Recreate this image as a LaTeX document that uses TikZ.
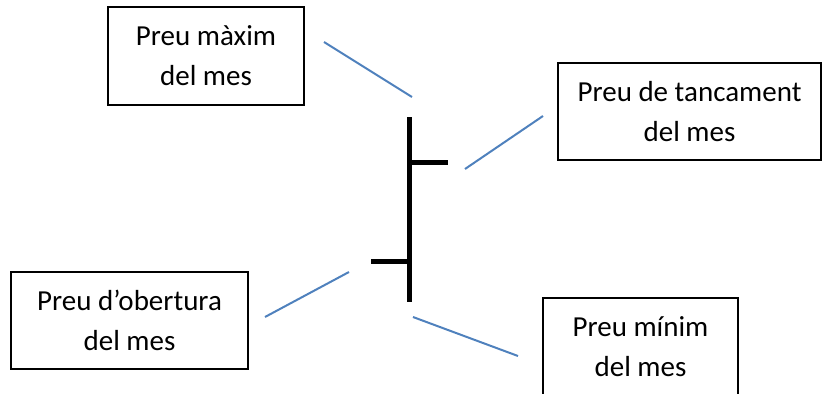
\documentclass[tikz,border=0pt]{standalone}
\usepackage{fontspec}
\setmainfont{Carlito}
\usepackage{tikz}
\usetikzlibrary{positioning, calc}

\definecolor{callblue}{RGB}{79,129,189}

\begin{document}
\begin{tikzpicture}[x=1pt, y=-1pt,
    label box/.style={draw, line width=1.3pt, inner sep=0pt, align=center, font=\fontsize{29}{40}\selectfont},
    leader/.style={draw=callblue, line width=2pt},
    bar/.style={draw=black, line width=5pt}
]
\useasboundingbox (0,0) rectangle (823,394);

% Nodes
\node[label box, minimum width=196pt, minimum height=98pt] (high) at (206,56) {Preu màxim\\del mes};
\node[label box, minimum width=263pt, minimum height=97pt] (close) at (689.5,111.5) {Preu de tancament\\del mes};
\node[label box, minimum width=237pt, minimum height=97pt] (open) at (129.5,320.5) {Preu d’obertura\\del mes};
\node[label box, minimum width=195pt, minimum height=98pt] (low) at (640.5,347) {Preu mínim\\del mes};

% Bar
\coordinate (top) at (409,117);
\coordinate (bottom) at (409,302);
\coordinate (closetick) at (448,162);
\coordinate (opentick) at (371,261);
\draw[bar] (top) -- (bottom);
\draw[bar] (top |- closetick) -- (closetick);
\draw[bar] (opentick) -- (top |- opentick);

% Connections
\coordinate (high a) at (324,42);
\coordinate (high b) at (412,97);
\coordinate (close a) at (465,169);
\coordinate (close b) at (543,116);
\coordinate (open a) at (265,317);
\coordinate (open b) at (349,272);
\coordinate (low a) at (413,317);
\coordinate (low b) at (518,356);
\draw[leader] (high a) -- (high b);
\draw[leader] (close a) -- (close b);
\draw[leader] (open a) -- (open b);
\draw[leader] (low a) -- (low b);

\end{tikzpicture}
\end{document}
